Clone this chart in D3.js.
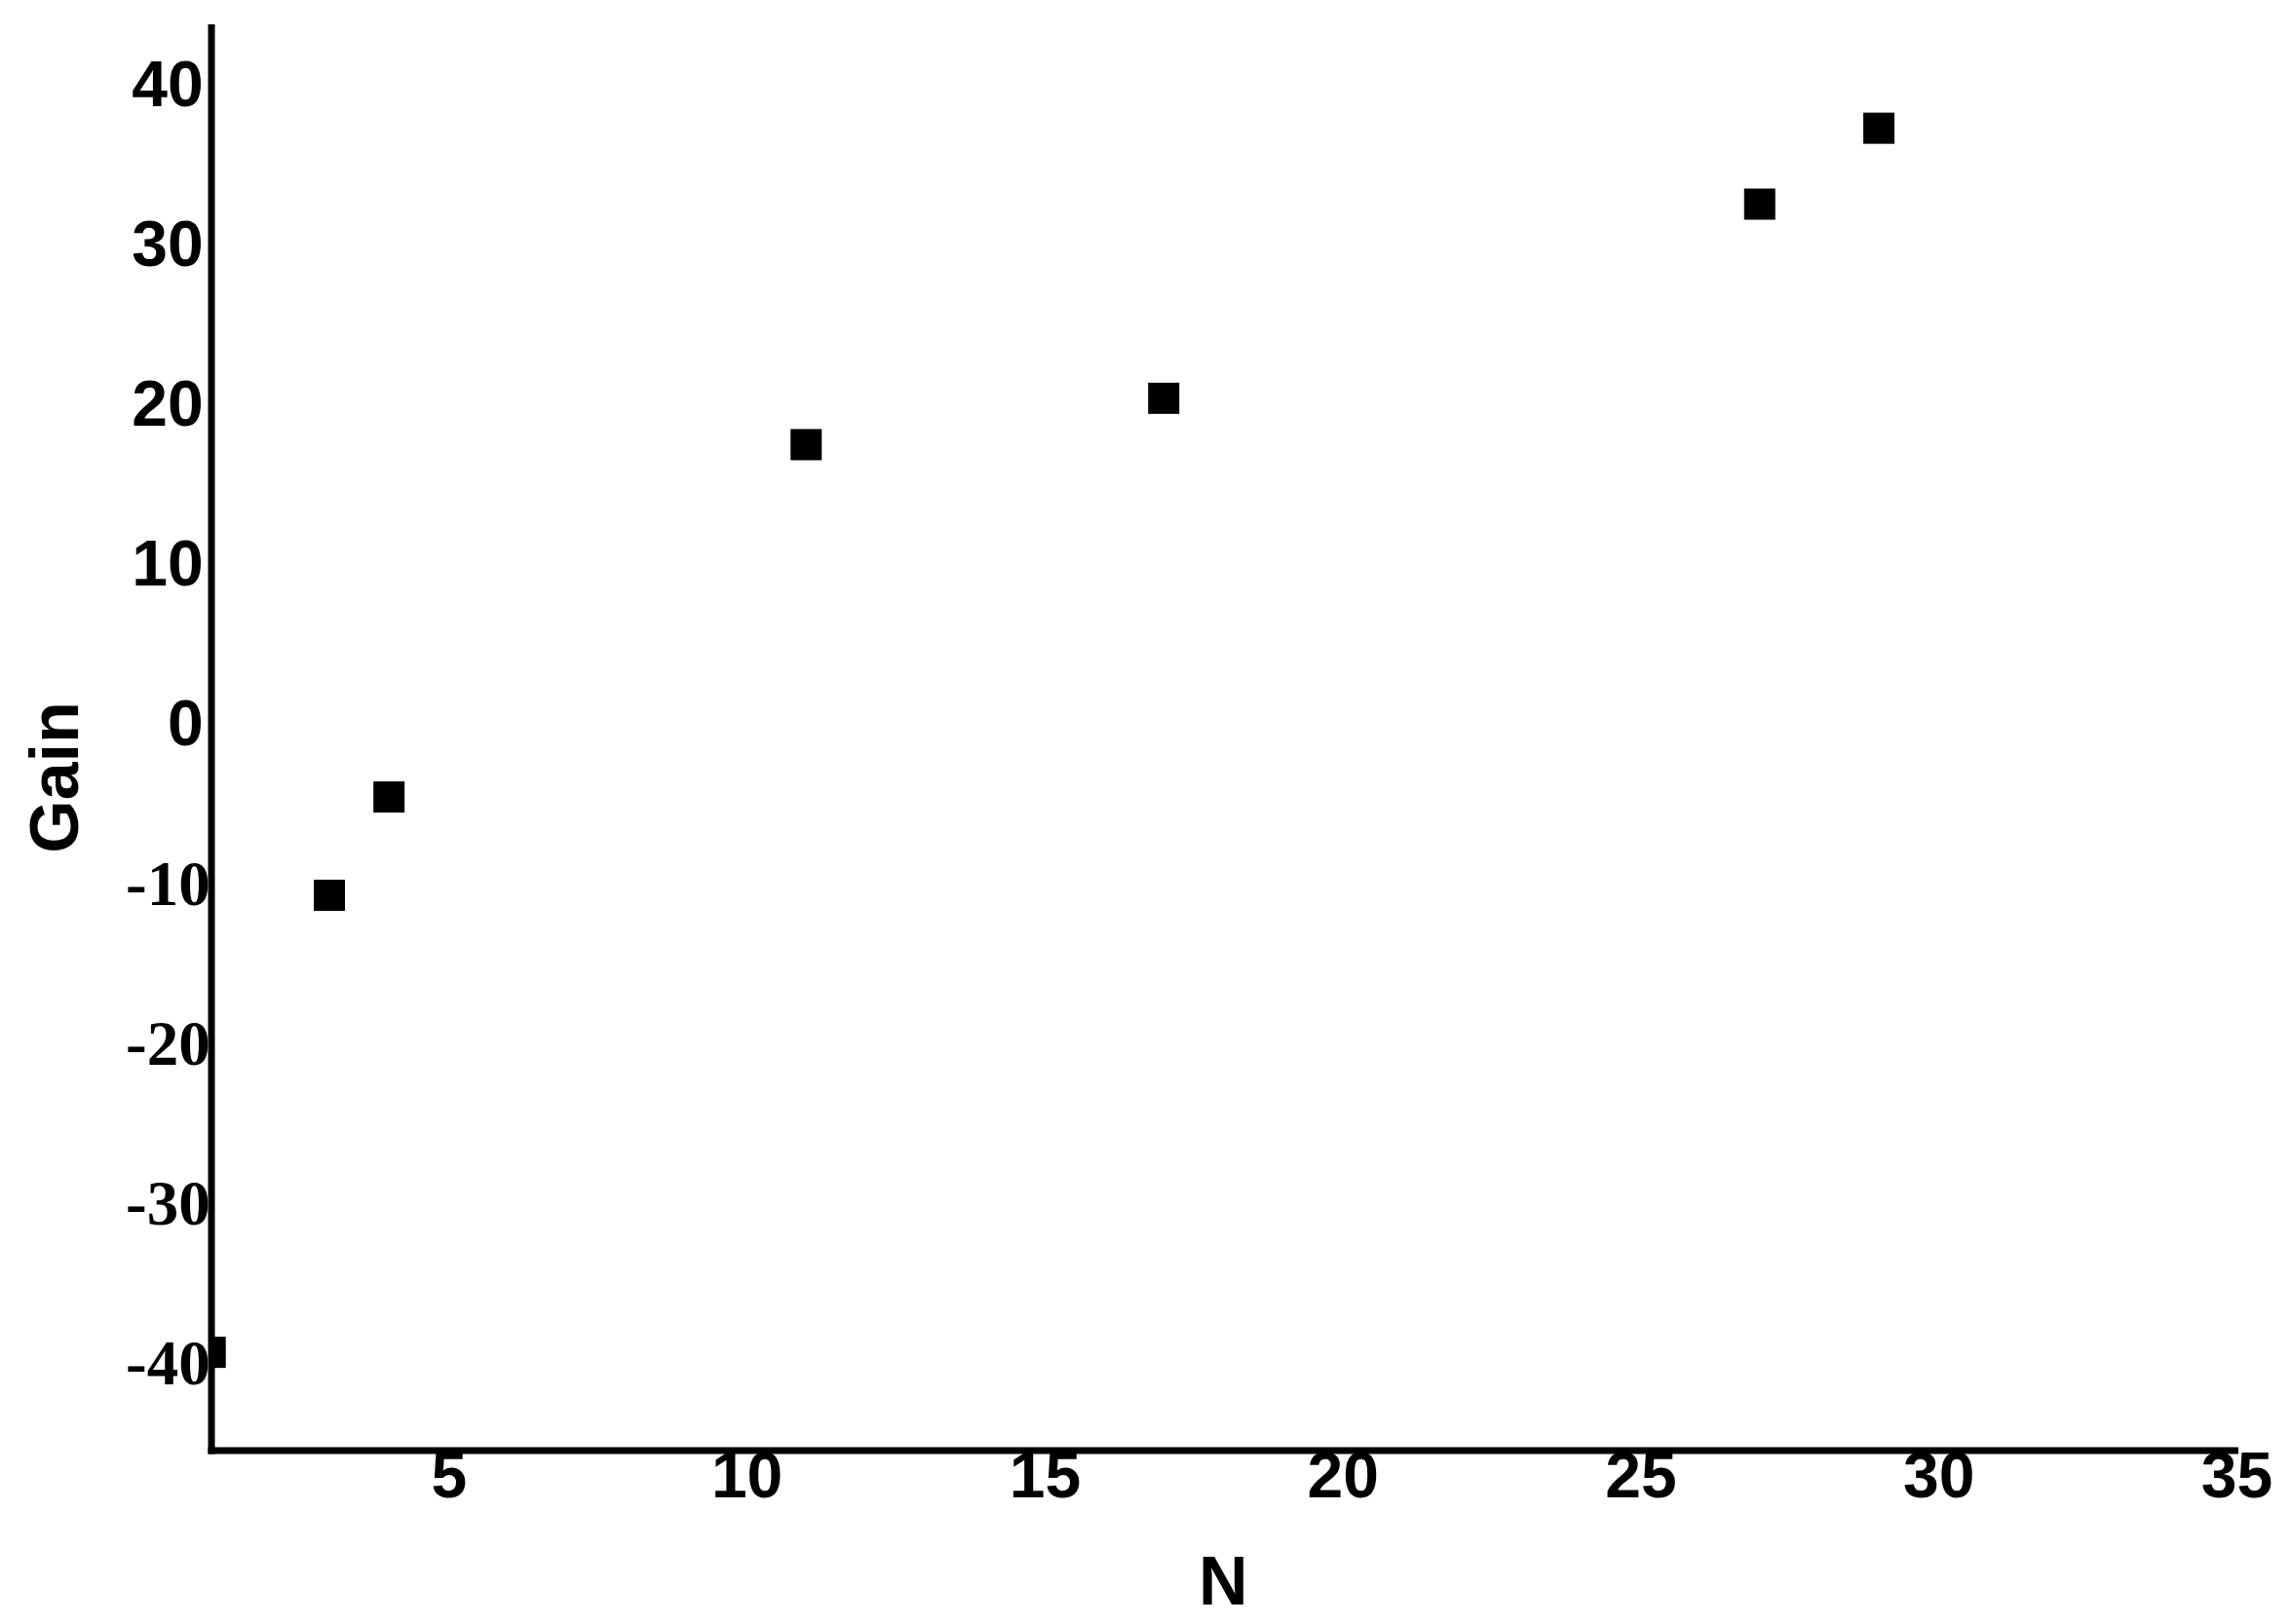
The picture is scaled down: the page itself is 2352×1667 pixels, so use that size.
<!DOCTYPE html>
<html>
<head>
<meta charset="utf-8">
<script src="https://cdn.jsdelivr.net/npm/d3@7"></script>
<style>
  html, body { margin: 0; padding: 0; background: #fff; }
  svg { display: block; }
</style>
</head>
<body>
<script>
// ---- data ----
const nValues = [1, 3, 4, 11, 17, 27, 29];
const gainValues = [-39.3, -10.7, -4.55, 17.5, 20.4, 32.55, 37.3];
const xTicks = [5, 10, 15, 20, 25, 30, 35];
const yTicks = [40, 30, 20, 10, 0, -10, -20, -30, -40];
const xTitle = "N";
const yTitle = "Gain";

const W = 2352, H = 1667;
const svg = d3.select("body").append("svg").attr("width", W).attr("height", H);

const x = d3.scaleLinear().domain([1, 35]).range([215.7, 2295]);
const y = d3.scaleLinear().domain([-45.45, 43.8]).range([1489, 25]);

const sansBold = "'Liberation Sans', Arial, sans-serif";
const serifBold = "'Liberation Serif', 'Times New Roman', serif";

// clip so points stay right of the y axis
svg.append("defs").append("clipPath").attr("id", "plot")
  .append("rect").attr("x", x(1) + 1).attr("y", 0).attr("width", W).attr("height", y(-45.45));

// y axis labels
const yAxis = d3.axisLeft(y).tickValues(yTicks).tickSize(0).tickFormat(d3.format("d"));
const gy = svg.append("g").attr("transform", `translate(${x(1)},0)`).call(yAxis);
gy.select(".domain").remove();
gy.selectAll(".tick text")
  .attr("fill", "#000")
  .attr("font-weight", "bold")
  .attr("font-family", d => d < 0 ? serifBold : sansBold)
  .attr("font-size", d => d < 0 ? 65 : 66)
  .attr("x", d => d < 0 ? 0 : -7)
  .text(d => d < 0 ? "-" + Math.abs(d) : d);

// x axis labels
const xAxis = d3.axisBottom(x).tickValues(xTicks).tickSize(0).tickPadding(1);
const gx = svg.append("g").attr("transform", `translate(0,${y(-45.45)})`).call(xAxis);
gx.select(".domain").remove();
gx.selectAll(".tick text")
  .attr("fill", "#000")
  .attr("font-weight", "bold")
  .attr("font-family", sansBold)
  .attr("font-size", 66);

// points
svg.append("g").attr("clip-path", "url(#plot)")
  .selectAll("rect").data(nValues.map((n, i) => [n, gainValues[i]]))
  .enter().append("rect")
  .attr("x", d => x(d[0]) - 16)
  .attr("y", d => y(d[1]) - 16)
  .attr("width", 32).attr("height", 32)
  .attr("fill", "#000");

// axis lines
const x0 = x(1) + 1.3;
svg.append("line")
  .attr("x1", x0).attr("x2", x0)
  .attr("y1", y(43.8)).attr("y2", y(-45.45) + 3.5)
  .attr("stroke", "#000").attr("stroke-width", 7);
svg.append("line")
  .attr("x1", x0 - 3.5).attr("x2", x(35) + 2)
  .attr("y1", y(-45.45)).attr("y2", y(-45.45))
  .attr("stroke", "#000").attr("stroke-width", 7);

// titles
svg.append("text")
  .attr("x", (x(1) + x(35)) / 2).attr("y", 1647)
  .attr("text-anchor", "middle")
  .attr("font-family", sansBold).attr("font-weight", "bold").attr("font-size", 70)
  .text(xTitle);

svg.append("text")
  .attr("transform", "translate(80,798) rotate(-90)")
  .attr("text-anchor", "middle")
  .attr("font-family", sansBold).attr("font-weight", "bold").attr("font-size", 70)
  .text(yTitle);
</script>
</body>
</html>
